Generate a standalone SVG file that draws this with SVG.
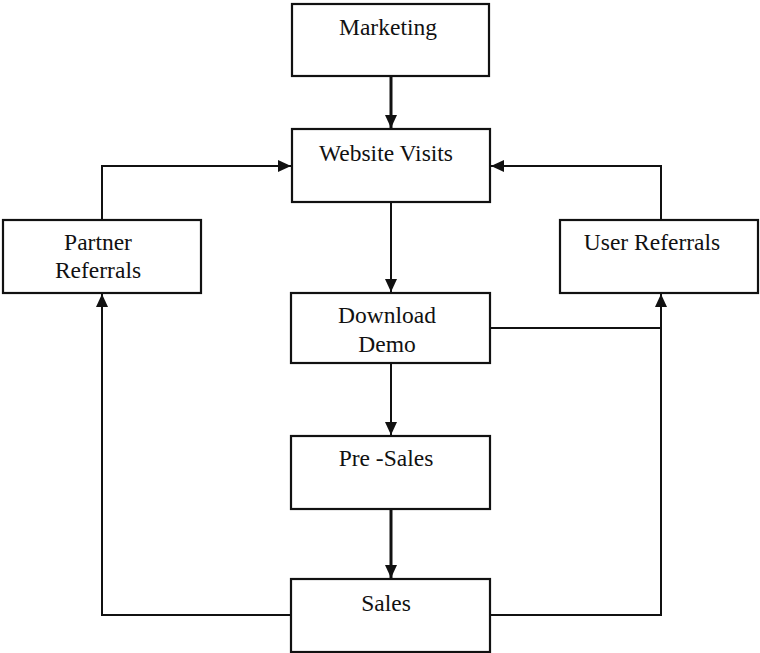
<svg xmlns="http://www.w3.org/2000/svg" width="760" height="653" viewBox="0 0 760 653">
  <defs>
    <marker id="arrow" markerUnits="userSpaceOnUse" markerWidth="13" markerHeight="13" refX="13" refY="6.5" orient="auto">
      <path d="M0,0.5 L13,6.5 L0,12.5 z" fill="#111"/>
    </marker>
    <style>
      .box { fill: #fff; stroke: #111; stroke-width: 2.2; }
      .label { font-family: "Liberation Serif", "Times New Roman", serif; font-size: 23.5px; fill: #111; text-anchor: middle; }
      .edge { fill: none; stroke: #111; stroke-width: 2; }
      .edge.heavy { stroke-width: 3; }
    </style>
  </defs>
  <rect width="760" height="653" fill="#fff"/>

  <!-- connectors -->
  <g id="connectors">
    <line class="edge heavy" x1="391" y1="77" x2="391" y2="128" marker-end="url(#arrow)"/>
    <line class="edge" x1="391" y1="203" x2="391" y2="292" marker-end="url(#arrow)"/>
    <line class="edge" x1="391" y1="364" x2="391" y2="435" marker-end="url(#arrow)"/>
    <line class="edge heavy" x1="391" y1="510" x2="391" y2="578" marker-end="url(#arrow)"/>
    <!-- partner referrals feed website visits -->
    <polyline class="edge" points="102,220 102,166 291,166" marker-end="url(#arrow)"/>
    <!-- user referrals feed website visits -->
    <polyline class="edge" points="661,220 661,166 491,166" marker-end="url(#arrow)"/>
    <!-- sales loops back to partner referrals -->
    <polyline class="edge" points="291,615 102,615 102,294" marker-end="url(#arrow)"/>
    <!-- sales loops back to user referrals -->
    <polyline class="edge" points="490,615 661,615 661,294" marker-end="url(#arrow)"/>
    <!-- download demo joins the user referral path -->
    <line class="edge" x1="490" y1="328" x2="661" y2="328"/>
  </g>

  <g id="marketing">
    <rect class="box" x="292" y="4" width="197" height="72"/>
    <text class="label" x="388" y="35">Marketing</text>
  </g>
  <g id="website-visits">
    <rect class="box" x="292" y="129" width="198" height="73"/>
    <text class="label" x="386" y="161">Website Visits</text>
  </g>
  <g id="partner-referrals">
    <rect class="box" x="3" y="220" width="198" height="73"/>
    <text class="label" x="98" y="250">Partner</text>
    <text class="label" x="98" y="278">Referrals</text>
  </g>
  <g id="user-referrals">
    <rect class="box" x="560" y="220" width="198" height="73"/>
    <text class="label" x="652" y="250">User Referrals</text>
  </g>
  <g id="download-demo">
    <rect class="box" x="291" y="293" width="199" height="70"/>
    <text class="label" x="387" y="323">Download</text>
    <text class="label" x="387" y="352">Demo</text>
  </g>
  <g id="pre-sales">
    <rect class="box" x="291" y="436" width="199" height="73"/>
    <text class="label" x="386" y="466">Pre -Sales</text>
  </g>
  <g id="sales">
    <rect class="box" x="291" y="579" width="199" height="73"/>
    <text class="label" x="386" y="611">Sales</text>
  </g>
</svg>
